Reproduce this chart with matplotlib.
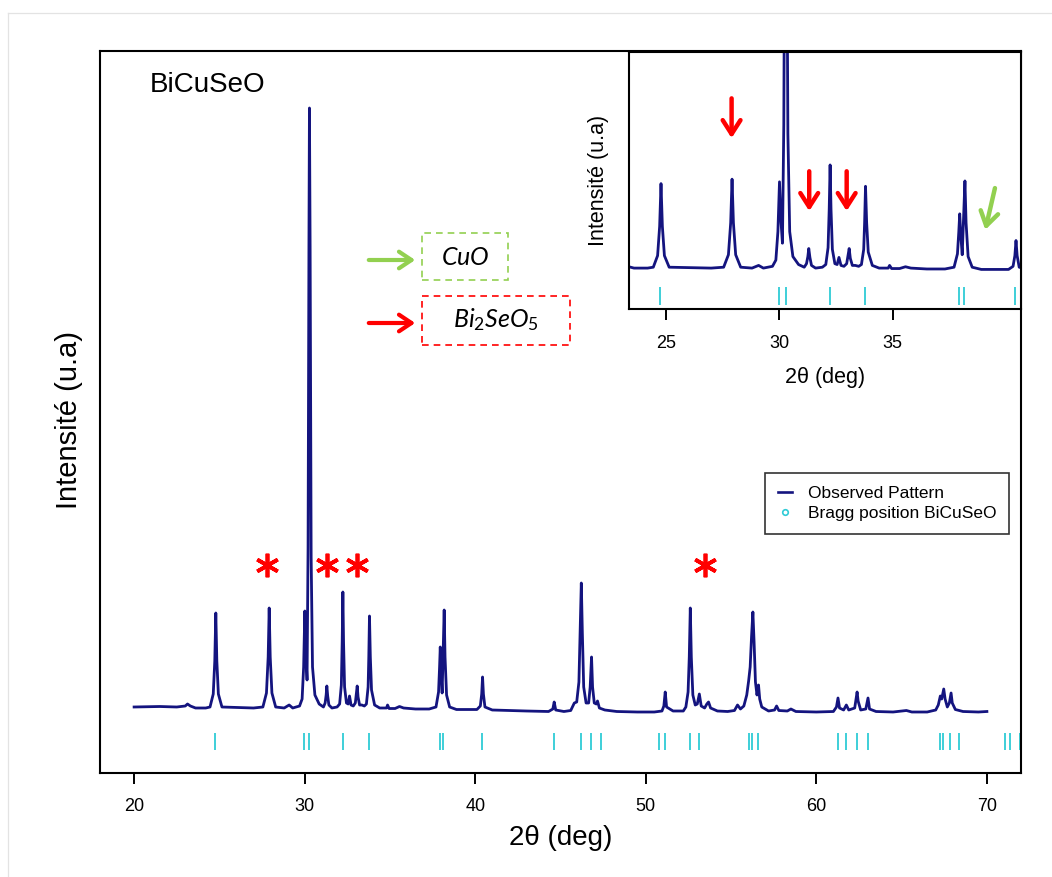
import matplotlib
matplotlib.use("Agg")
import matplotlib.pyplot as plt
from matplotlib.lines import Line2D
from matplotlib.patches import Rectangle, FancyArrowPatch

plt.rcParams['font.family'] = ['Liberation Sans', 'DejaVu Sans']
plt.rcParams['mathtext.fontset'] = 'custom'
plt.rcParams['mathtext.it'] = 'Lato:italic'
plt.rcParams['mathtext.rm'] = 'Lato'

# ===================== DATA =====================

# observed XRD pattern, (2theta, intensity in arbitrary units)
observed = [
    (20.00, 100), (21.5, 100.5), (22.5, 100), (23.0, 101), (23.13, 103), (23.3, 101),
    (23.6, 99), (24.2, 99),
    (24.45, 100), (24.64, 113), (24.73, 146), (24.79, 194), (24.85, 146), (24.94, 113), (25.15, 100),
    (26.0, 99.5), (27.0, 99),
    (27.55, 100), (27.76, 114), (27.86, 150), (27.92, 199), (27.98, 150), (28.08, 114), (28.30, 100),
    (28.8, 99), (29.09, 102), (29.3, 99), (29.7, 101),
    (29.85, 108), (29.94, 140), (30.01, 196), (30.08, 150), (30.14, 127), (30.20, 260),
    (30.25, 560), (30.28, 699), (30.32, 560), (30.38, 250), (30.46, 140), (30.6, 112),
    (30.85, 103), (31.1, 100),
    (31.2, 104), (31.26, 112), (31.30, 121), (31.35, 111), (31.42, 102), (31.6, 99), (31.9, 100),
    (32.05, 103), (32.15, 122), (32.20, 165), (32.24, 215), (32.28, 165), (32.34, 120), (32.45, 104),
    (32.55, 103), (32.63, 111), (32.72, 102), (32.85, 101),
    (32.97, 104), (33.03, 113), (33.08, 121), (33.13, 110), (33.22, 102), (33.35, 102), (33.5, 101),
    (33.62, 103), (33.72, 120), (33.76, 150), (33.80, 191), (33.85, 150), (33.92, 117), (34.1, 102),
    (34.4, 99), (34.8, 99), (34.86, 102), (34.95, 98.5), (35.3, 98.5), (35.56, 100.5), (35.8, 99),
    (36.5, 98), (37.3, 98),
    (37.7, 100), (37.85, 115), (37.91, 140), (37.95, 160), (38.00, 135), (38.06, 114), (38.11, 150),
    (38.18, 197), (38.23, 150), (38.32, 112), (38.5, 100), (38.9, 97.5), (39.5, 97.5), (40.1, 97.5),
    (40.30, 101), (40.38, 113), (40.43, 130), (40.48, 113), (40.57, 100), (41.0, 97), (42.0, 96.5),
    (43.0, 96), (44.3, 95.5),
    (44.55, 98), (44.63, 105), (44.72, 97), (45.2, 95.5), (45.6, 96.5),
    (45.81, 104), (45.95, 105), (46.08, 125), (46.16, 180), (46.22, 224), (46.28, 175), (46.36, 120),
    (46.5, 104), (46.65, 104), (46.74, 120), (46.82, 150), (46.88, 120), (46.98, 104), (47.1, 103),
    (47.17, 106), (47.28, 99), (47.6, 97), (48.3, 95.5), (49.5, 95), (50.5, 95), (50.95, 96),
    (51.06, 101), (51.14, 115), (51.22, 100), (51.6, 96), (52.2, 96),
    (52.35, 100), (52.48, 115), (52.55, 150), (52.61, 199), (52.67, 150), (52.76, 112), (52.9, 102),
    (53.02, 103), (53.14, 113), (53.25, 101), (53.45, 99), (53.58, 103), (53.68, 105), (53.8, 99),
    (54.2, 96), (54.8, 95.5), (55.2, 96.5), (55.38, 102), (55.55, 98),
    (55.75, 101), (55.92, 112), (56.03, 126), (56.12, 140), (56.20, 170), (56.28, 195), (56.35, 165),
    (56.43, 125), (56.52, 112), (56.61, 122), (56.68, 108), (56.8, 100), (57.2, 96), (57.55, 97),
    (57.67, 101), (57.8, 96.5), (58.3, 96), (58.51, 98), (58.8, 95.5), (60.0, 95), (61.0, 95.5),
    (61.18, 100), (61.27, 109), (61.36, 99), (61.6, 97), (61.76, 102), (61.9, 97), (62.25, 99),
    (62.33, 108), (62.39, 115), (62.45, 106), (62.6, 97), (62.9, 98), (63.03, 109), (63.12, 98),
    (63.5, 95.5), (64.5, 95), (65.28, 96.5), (65.6, 95), (66.5, 95), (67.0, 97),
    (67.15, 102), (67.27, 111), (67.35, 108), (67.42, 114), (67.47, 118), (67.55, 108), (67.68, 100),
    (67.80, 104), (67.90, 114), (67.97, 104), (68.15, 97.5), (68.6, 95.5), (69.5, 95), (70.0, 95.5),
]
two_theta = [p[0] for p in observed]
intensity = [p[1] for p in observed]

# Bragg positions of BiCuSeO
bragg = [24.75, 29.99, 30.28, 32.22, 33.78, 37.91, 38.14, 40.39, 44.59, 46.22, 46.78, 47.37,
         50.75, 51.14, 52.57, 53.14, 56.07, 56.23, 56.60, 61.25, 61.74, 62.39, 63.03,
         67.23, 67.40, 67.86, 68.35, 71.08, 71.38, 71.97]

# Bi2SeO5 impurity peaks marked with a star in the main plot
star_pos = [27.80, 31.32, 33.08, 53.49]
star_int = [242, 242, 242, 242]

# impurity arrows in the inset (tail -> tip)
red_arrow_x = [27.90, 31.32, 32.97]
red_arrow_tail = [293, 211, 211]
red_arrow_tip = [242, 160, 160]
green_tail = (39.53, 192)
green_tip = (39.05, 139)

NAVY = '#14147f'
CYAN = '#2fcbd6'
RED = '#ff0000'
GREEN = '#92d050'

W, H = 1052, 877


def fx(px):
    return px / W


def fy(py):
    return 1 - py / H


fig = plt.figure(figsize=(10.52, 8.77), dpi=100)

# faint page border
fig.add_artist(Line2D([fx(8), fx(8)], [0, fy(13)], color='#e3e3e3', lw=0.9))
fig.add_artist(Line2D([fx(8), 1], [fy(13), fy(13)], color='#e3e3e3', lw=0.9))

# ===================== MAIN PLOT =====================

ax = fig.add_axes([fx(100), fy(773), fx(1021) - fx(100), fy(51) - fy(773)])
ax.plot(two_theta, intensity, color=NAVY, lw=2.0)
ax.vlines(bragg, 57, 74, color=CYAN, lw=1.3)
ax.plot(star_pos, star_int, ls='none', marker=(6, 2, 0), ms=17, mew=2.7, color=RED)

ax.set_xlim(18, 72)
ax.set_ylim(34, 756)
ax.set_xticks([20, 30, 40, 50, 60, 70])
ax.set_yticks([])
ax.tick_params(axis='x', direction='out', length=8, width=1.4, labelsize=13, pad=10)
for s in ax.spines.values():
    s.set_linewidth(1.5)

ax.set_xlabel('2θ (deg)', fontsize=20, va='center')
ax.xaxis.set_label_coords(0.5, -0.09)
ax.set_ylabel('Intensité (u.a)', fontsize=21, va='center', ha='center')
ax.yaxis.set_label_coords(-0.034, 0.489)

ax.text(0.0543, 0.953, 'BiCuSeO', transform=ax.transAxes, fontsize=20, va='center', ha='left')

handles = [
    Line2D([], [], color=NAVY, lw=1.9),
    Line2D([], [], ls='none', marker='o', ms=4, mfc='none', mec=CYAN, mew=1.2),
]
leg = ax.legend(handles, ['Observed Pattern', 'Bragg position BiCuSeO'],
                loc='upper left', bbox_to_anchor=((765 - 100) / 921, (773 - 473) / 722),
                fontsize=12.5, frameon=True, fancybox=False, edgecolor='black',
                handlelength=0.8, handletextpad=0.9, labelspacing=0.25, borderpad=0.75,
                borderaxespad=0)
leg.get_frame().set_linewidth(1.2)

# phase key with arrows
fig.add_artist(Rectangle((fx(422), fy(280)), fx(508) - fx(422), fy(233) - fy(280),
                         fill=False, ec=GREEN, ls=(0, (4, 3)), lw=1.2))
fig.add_artist(Rectangle((fx(422), fy(345)), fx(570) - fx(422), fy(296) - fy(345),
                         fill=False, ec=RED, ls=(0, (4, 3)), lw=1.2))
fig.text(fx(465), fy(258), '$CuO$', fontsize=18, ha='center', va='center')
fig.text(fx(496), fy(320), '$Bi_{\\mathit{2}}SeO_{\\mathit{5}}$', fontsize=18, ha='center', va='center')
for yy, col in [(260, GREEN), (323, RED)]:
    fig.add_artist(FancyArrowPatch(
        (fx(366), fy(yy)), (fx(418), fy(yy)), transform=fig.transFigure,
        arrowstyle='->,head_length=0.45,head_width=0.3', mutation_scale=20, lw=3, color=col))

# ===================== INSET =====================

axin = fig.add_axes([fx(629), fy(309), fx(1021) - fx(629), fy(52) - fy(309)])
axin.plot(two_theta, intensity, color=NAVY, lw=2.0)
axin.vlines(bragg, 58, 78, color=CYAN, lw=1.3)
axin.set_xlim(23.38, 40.65)
axin.set_ylim(53, 342)
axin.set_xticks([25, 30, 35])
axin.set_yticks([])
axin.tick_params(axis='x', direction='out', length=8, width=1.4, labelsize=13, pad=11)
for s in axin.spines.values():
    s.set_linewidth(1.5)
axin.set_xlabel('2θ (deg)', fontsize=15.5, va='center')
axin.xaxis.set_label_coords(0.5, -0.265)
axin.set_ylabel('Intensité (u.a)', fontsize=15.5, va='center', ha='center')
axin.yaxis.set_label_coords(-0.079, 0.502)

for xa, yt, yh in zip(red_arrow_x, red_arrow_tail, red_arrow_tip):
    axin.annotate('', xy=(xa, yh), xytext=(xa, yt),
                  arrowprops=dict(arrowstyle='->,head_length=0.5,head_width=0.32',
                                  mutation_scale=20, lw=3.2, color=RED))
axin.annotate('', xy=green_tip, xytext=green_tail,
              arrowprops=dict(arrowstyle='->,head_length=0.5,head_width=0.32',
                              mutation_scale=20, lw=3.2, color=GREEN))

fig.savefig('out.png', dpi=100)
